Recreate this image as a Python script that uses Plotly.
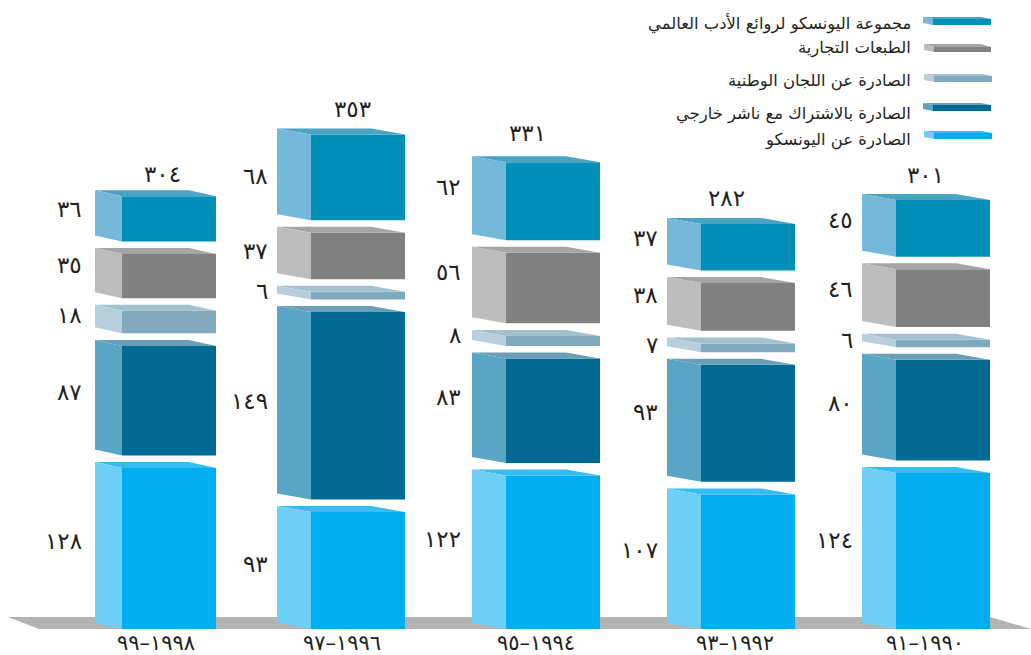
import plotly.graph_objects as go

# ---- data ----
years = ["١٩٩٨–٩٩", "١٩٩٦–٩٧", "١٩٩٤–٩٥", "١٩٩٢–٩٣", "١٩٩٠–٩١"]
unesco = [128, 93, 122, 107, 124]
copublished = [87, 149, 83, 93, 80]
national = [18, 6, 8, 7, 6]
commercial = [35, 37, 56, 38, 46]
literature = [36, 68, 62, 37, 45]
totals = [304, 353, 331, 282, 301]
series_names = [
    "الصادرة عن اليونسكو",
    "الصادرة بالاشتراك مع ناشر خارجي",
    "الصادرة عن اللجان الوطنية",
    "الطبعات التجارية",
    "مجموعة اليونسكو لروائع الأدب العالمي",
]

# ---- styles / layout constants ----
FONT = "DejaVu Sans"
INK = "#231f20"
NUM_SIZE = 23
TICK_SIZE = 21
front_colors = ["#00aeef", "#006a94", "#80a8be", "#808080", "#008fb8"]
side_colors = ["#6dcff6", "#58a5c6", "#b7cfdd", "#bdbdbd", "#74b9da"]
top_colors = ["#35bdf1", "#6a9fb5", "#a3c0cf", "#a5a5a5", "#4ba3c4"]

W, H, BOTTOM = 1031, 655, 26
PX = 1.258                # pixels per unit on the value axis
GAP = 10                  # gap between blocks, in value units
RISE = 6 / PX             # vertical depth of blocks
BAR_W = 94
bar_center = [169, 358, 553, 748, 943]
depth = [27, 34, 34, 34, 34]
tick_pos = [156, 342, 536, 735, 925]
total_dx = [-7, -6, -26, -22, -18]
total_dy = [16, 20, 23, 20, 19]
label_gap = [11, 7, 9, 7, 7]
label_nudge = [  # px, upward, per bar, bottom to top
    [7, 9, 7, 11, 10],
    [7, 5, 5, 5, 1],
    [13, 14, 6, 16, 14],
    [12, 11, 3, 12, 9],
    [11, 7, 3, 9, 8],
]
legend_y = [140, 114, 81, 48, 23]
legend_swatch = [(924, 992, 131, 133, 139), (923, 991, 103, 105, 111), (924, 992, 74, 76, 82),
                 (924, 991, 44, 47, 52), (923, 991, 17, 19, 25)]

to_ar = str.maketrans("0123456789", "٠١٢٣٤٥٦٧٨٩")
ar = lambda v: str(v).translate(to_ar)
py = lambda p: (H - BOTTOM - p) / PX   # pixel row -> value axis

series = [unesco, copublished, national, commercial, literature]

bases = [[] for _ in series]
for b in range(len(years)):
    cur = 0
    for s in range(len(series)):
        bases[s].append(cur)
        cur += series[s][b] + GAP

fig = go.Figure()


def poly(polys, color):
    xs, ys = [], []
    for p in polys:
        xs += [q[0] for q in p] + [p[0][0], None]
        ys += [q[1] for q in p] + [p[0][1], None]
    fig.add_trace(go.Scatter(x=xs, y=ys, mode="lines", fill="toself", fillcolor=color,
                             line=dict(width=0, color=color), hoverinfo="skip", showlegend=False))


for s, vals in enumerate(series):
    sides, tops = [], []
    for b, v in enumerate(vals):
        xl, xr, d = bar_center[b] - BAR_W / 2, bar_center[b] + BAR_W / 2, depth[b]
        lo, hi = bases[s][b], bases[s][b] + v
        sides.append([(xl - d, lo + RISE), (xl, lo), (xl, hi), (xl - d, hi + RISE)])
        tops.append([(xl - d, hi + RISE), (xl, hi), (xr, hi), (xr - d, hi + RISE)])
    poly(tops, top_colors[s])
    poly(sides, side_colors[s])
    fig.add_trace(go.Bar(x=bar_center, y=vals, base=bases[s], width=BAR_W, name=series_names[s],
                         marker=dict(color=front_colors[s], line=dict(width=0)), showlegend=False))

anns = []


def txt(x, y, t, size, anchor="center"):
    anns.append(dict(x=x, y=y, text=t, showarrow=False, xanchor=anchor, yanchor="middle",
                     font=dict(family=FONT, size=size, color=INK)))


for s, vals in enumerate(series):
    for b, v in enumerate(vals):
        xl = bar_center[b] - BAR_W / 2 - depth[b]
        mid = bases[s][b] + v / 2
        txt(xl - label_gap[b], mid + label_nudge[b][s] / PX, ar(v), NUM_SIZE, "right")

for b, t in enumerate(totals):
    top = bases[-1][b] + literature[b] + RISE
    txt(bar_center[b] + total_dx[b], top + total_dy[b] / PX, ar(t), NUM_SIZE)

# custom legend: block swatch + right-aligned text
for s, name in enumerate(series_names):
    x0, x1, y0, y1, y2 = legend_swatch[s]
    xm = x0 + 10
    poly([[(x0, py(y0)), (xm, py(y1)), (x1, py(y1)), (x1 - 10, py(y0))]], top_colors[s])
    poly([[(x0, py(y0)), (xm, py(y1)), (xm, py(y2)), (x0, py(y2 - 2))]], side_colors[s])
    poly([[(xm, py(y1)), (x1, py(y1)), (x1, py(y2)), (xm, py(y2))]], front_colors[s])
    txt(913, py(legend_y[s]), name, 16.4, "right")

fig.update_layout(
    width=W, height=H, margin=dict(l=0, r=0, t=0, b=BOTTOM, autoexpand=False),
    paper_bgcolor="white", plot_bgcolor="white", barmode="overlay", showlegend=False,
    annotations=anns,
    xaxis=dict(range=[0, W], tickvals=tick_pos, ticktext=years, showgrid=False, zeroline=False,
               showline=False, ticks="", tickfont=dict(family=FONT, size=TICK_SIZE, color=INK),
               ticklabelstandoff=-1, automargin=False, fixedrange=True),
    yaxis=dict(range=[0, (H - BOTTOM) / PX], visible=False, automargin=False, fixedrange=True),
    shapes=[dict(type="path", layer="below", xref="x", yref="y", line=dict(width=0), fillcolor="#b3b3b3",
                 path=f"M 8 {py(617)} L 39 0 L {W} 0 L 990 {py(617)} Z")],
)
fig.write_html("out.html", config={"displayModeBar": False},
               post_script="document.body.style.margin='0';document.documentElement.style.overflow='hidden';")
